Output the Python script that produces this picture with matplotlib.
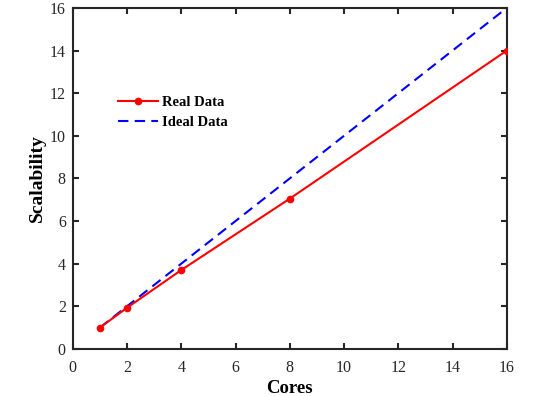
import matplotlib
matplotlib.use("Agg")
import matplotlib.pyplot as plt

# Data
cores = [1, 2, 4, 8, 16]
real_data = [1.0, 1.93, 3.7, 7.05, 14.0]
ideal_data = [1, 2, 4, 8, 16]
x_ticks = list(range(0, 17, 2))
y_ticks = list(range(0, 17, 2))

plt.rcParams["font.family"] = ["Liberation Serif", "DejaVu Serif"]

fig = plt.figure(figsize=(5.6, 3.96), dpi=100)
ax = fig.add_axes([0.130, 0.119, 0.775, 0.861])

ax.plot(cores, real_data, color="red", lw=1.5, marker="o", ms=4.5, label="Real Data", zorder=3)
ax.plot(cores, ideal_data, color="blue", lw=1.5, ls=(0, (5, 3)), label="Ideal Data", zorder=2)

ax.set_xlim(0, 16)
ax.set_ylim(0, 16)
ax.set_xticks(x_ticks)
ax.set_yticks(y_ticks)
ax.tick_params(direction="in", top=True, right=True, labelsize=11.5, length=4, width=1.5, colors="#262626")
ax.tick_params(axis="x", pad=8)
ax.tick_params(axis="y", pad=5)
for sp in ax.spines.values():
    sp.set_linewidth(1.5)
    sp.set_color("#262626")

ax.set_xlabel("Cores", fontsize=13.5, fontweight="bold", labelpad=3)
ax.set_ylabel("Scalability", fontsize=14, fontweight="bold", labelpad=3)

ax.legend(loc="upper left", bbox_to_anchor=(0.075, 0.78), frameon=False,
          prop={"weight": "bold", "size": 10.5}, handlelength=2.7,
          handletextpad=0.3, labelspacing=0.45)

fig.savefig("out.png", dpi=100)
